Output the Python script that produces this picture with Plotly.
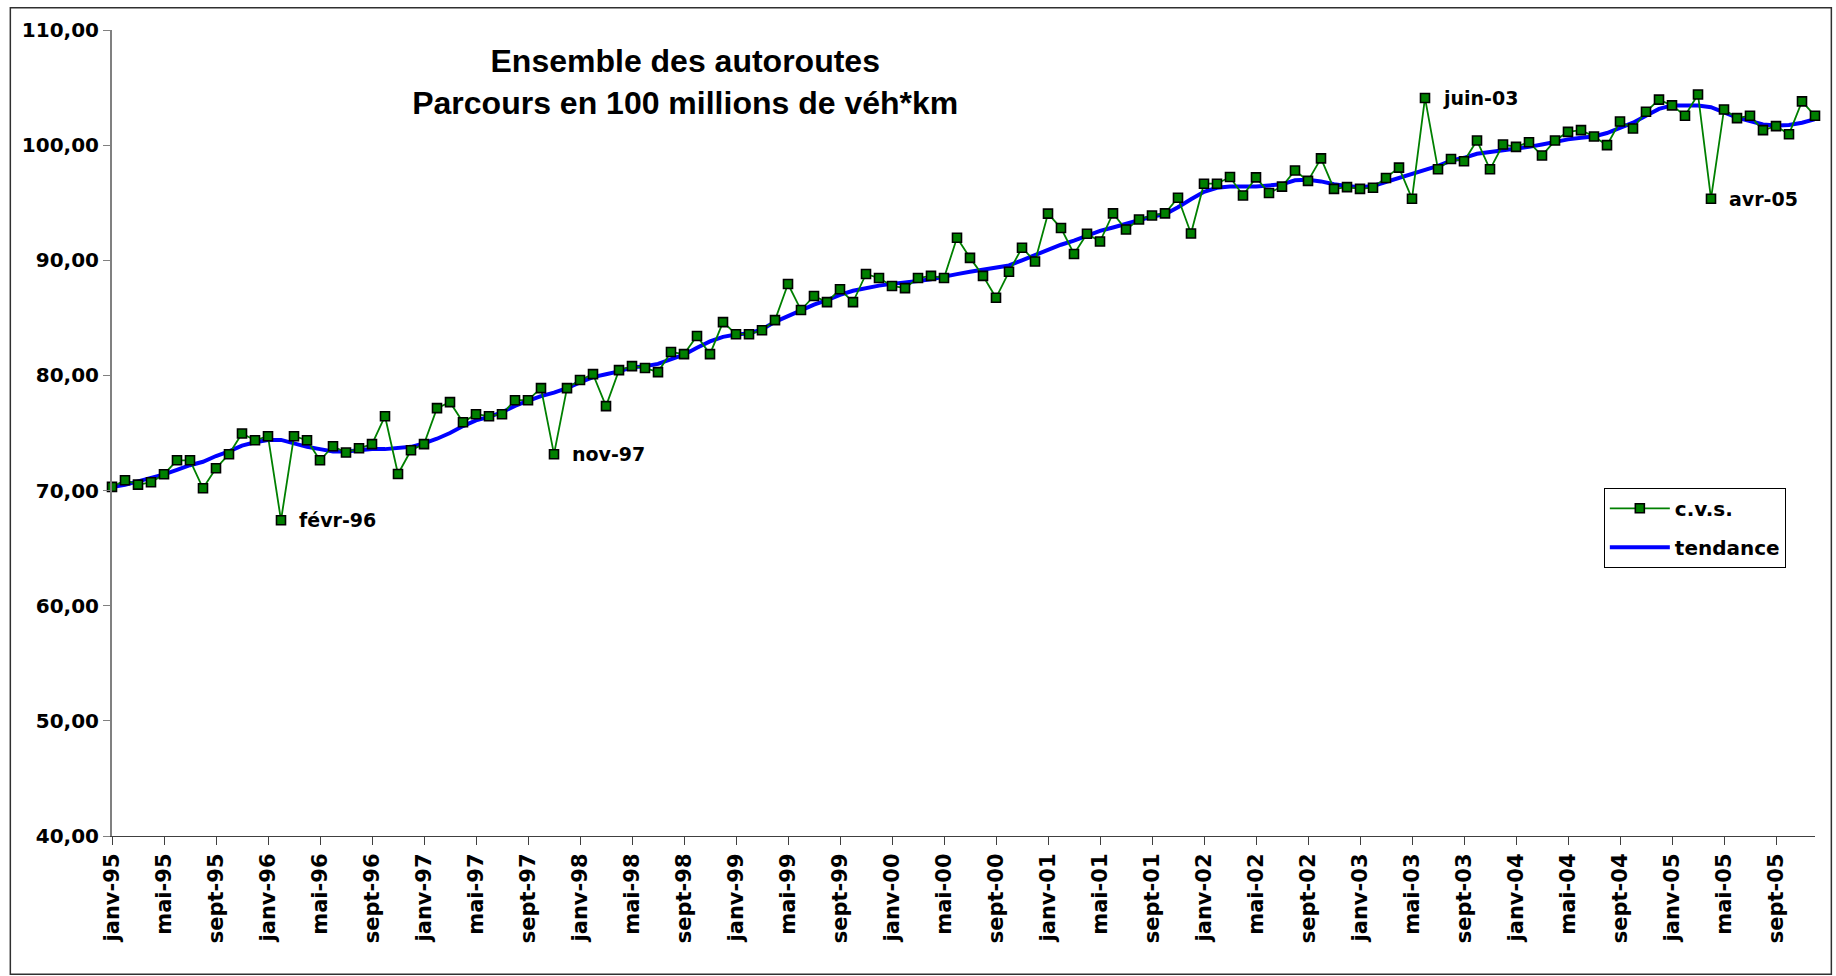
import plotly.graph_objects as go

# ---------------- data ----------------
month_names = ["janv", "févr", "mars", "avr", "mai", "juin",
               "juil", "août", "sept", "oct", "nov", "déc"]
years = [95, 96, 97, 98, 99, 0, 1, 2, 3, 4, 5]
months = [f"{m}-{y:02d}" for y in years for m in month_names]

cvs = [
    70.32, 70.90, 70.52, 70.72, 71.42, 72.63, 72.63, 70.20, 71.94, 73.16, 74.96, 74.37,   # 1995
    74.72, 67.42, 74.72, 74.37, 72.63, 73.85, 73.30, 73.68, 74.03, 76.46, 71.44, 73.50,   # 1996
    74.03, 77.16, 77.68, 75.94, 76.63, 76.46, 76.63, 77.85, 77.85, 78.90, 73.16, 78.90,   # 1997
    79.60, 80.11, 77.33, 80.46, 80.81, 80.65, 80.29, 82.03, 81.85, 83.42, 81.85, 84.63,   # 1998
    83.58, 83.58, 83.92, 84.80, 87.94, 85.68, 86.90, 86.37, 87.48, 86.37, 88.81, 88.46,   # 1999
    87.77, 87.58, 88.46, 88.65, 88.46, 91.96, 90.21, 88.65, 86.74, 89.00, 91.09, 89.90,   # 2000
    94.05, 92.80, 90.55, 92.30, 91.63, 94.07, 92.67, 93.54, 93.89, 94.07, 95.43, 92.33,   # 2001
    96.65, 96.65, 97.23, 95.63, 97.20, 95.84, 96.40, 97.80, 96.90, 98.85, 96.20, 96.35,   # 2002
    96.20, 96.30, 97.15, 98.05, 95.35, 104.10, 97.90, 98.80, 98.60, 100.40, 97.90, 100.05,  # 2003
    99.85, 100.25, 99.10, 100.40, 101.15, 101.30, 100.75, 100.00, 102.05, 101.45, 102.90, 103.95,  # 2004
    103.45, 102.55, 104.40, 95.35, 103.10, 102.35, 102.55, 101.30, 101.65, 100.95, 103.80, 102.55,  # 2005
]

tendance = [
    70.30, 70.50, 70.80, 71.10, 71.40, 71.80, 72.20, 72.50, 73.00, 73.40, 73.90, 74.20,
    74.40, 74.40, 74.10, 73.80, 73.60, 73.40, 73.40, 73.50, 73.60, 73.60, 73.70, 73.80,
    74.10, 74.50, 75.00, 75.60, 76.10, 76.40, 76.80, 77.35, 77.80, 78.20, 78.50, 78.90,
    79.40, 79.85, 80.10, 80.35, 80.70, 80.80, 81.00, 81.40, 81.80, 82.40, 82.95, 83.35,
    83.55, 83.65, 84.00, 84.65, 85.15, 85.60, 86.15, 86.55, 87.00, 87.35, 87.60, 87.80,
    87.95, 88.05, 88.20, 88.35, 88.60, 88.80, 89.00, 89.20, 89.35, 89.55, 90.00, 90.45,
    90.90, 91.35, 91.70, 92.15, 92.55, 92.85, 93.15, 93.50, 93.80, 94.00, 94.60, 95.30,
    95.95, 96.30, 96.40, 96.40, 96.40, 96.50, 96.60, 96.95, 97.00, 96.85, 96.60, 96.45,
    96.35, 96.45, 96.80, 97.15, 97.50, 97.90, 98.20, 98.65, 98.90, 99.25, 99.40, 99.55,
    99.65, 99.85, 100.05, 100.30, 100.50, 100.65, 100.75, 101.05, 101.50, 101.95, 102.55, 103.15,
    103.45, 103.45, 103.45, 103.30, 102.85, 102.40, 102.10, 101.80, 101.70, 101.75, 101.95, 102.25,
]

outliers = ["févr-96", "nov-97", "juin-03", "avr-05"]

tick_labels = months[::4]

# ---------------- figure ----------------
LABEL_FONT = "DejaVu Sans"
TITLE_FONT = "Liberation Sans, Arial, sans-serif"

fig = go.Figure()

fig.add_trace(go.Scatter(
    x=months, y=tendance, name="tendance", mode="lines",
    line=dict(color="#0000FF", width=4),
    legendrank=2, legendgroup="t", cliponaxis=False,
))

fig.add_trace(go.Scatter(
    x=months, y=cvs, name="c.v.s.", mode="lines+markers",
    line=dict(color="#008000", width=1.8),
    marker=dict(symbol="square", size=9, color="#008000",
                line=dict(color="#000000", width=1.6)),
    legendrank=1, legendgroup="c", cliponaxis=False,
))

for lab in outliers:
    i = months.index(lab)
    fig.add_annotation(
        x=lab, y=cvs[i], text=lab, showarrow=False,
        xanchor="left", yanchor="middle", xshift=16,
        font=dict(family=LABEL_FONT, size=19, color="#000000", weight="bold"),
    )

# outer chart frame
fig.add_shape(
    type="rect", xref="paper", yref="paper",
    x0=-0.0597, x1=1.0096, y0=-0.1715, y1=1.0275,
    line=dict(color="#303030", width=1.5), layer="below",
)

fig.update_layout(
    width=1836, height=976, autosize=False,
    margin=dict(l=112, r=21, t=30, b=140),
    paper_bgcolor="white", plot_bgcolor="white",
    separators=", ",
    showlegend=True,
    title=dict(
        text="Ensemble des autoroutes<br>Parcours en 100 millions de véh*km",
        font=dict(family=TITLE_FONT, size=32, color="#000000", weight="bold"),
        x=0.3366, xref="paper", xanchor="center",
        y=1 - 72 / 976, yref="container", yanchor="middle",
    ),
    legend=dict(
        x=0.876, y=0.432, xanchor="left", yanchor="top",
        bgcolor="white", bordercolor="#000000", borderwidth=1,
        traceorder="grouped", tracegroupgap=10, itemwidth=60,
        font=dict(family=LABEL_FONT, size=20, color="#000000", weight="bold"),
    ),
    xaxis=dict(
        type="category", range=[0, len(months) - 1],
        tickmode="array", tickvals=tick_labels, ticktext=tick_labels,
        tickangle=-90, ticks="outside", ticklen=8, tickcolor="#404040",
        showline=True, linecolor="#404040", linewidth=1.2,
        showgrid=False, zeroline=False,
        tickfont=dict(family=LABEL_FONT, size=21, color="#000000", weight="bold"),
    ),
    yaxis=dict(
        range=[40, 110], tick0=40, dtick=10, tickformat=".2f",
        ticks="outside", ticklen=7, tickcolor="#808080",
        showline=True, linecolor="#808080", linewidth=2,
        showgrid=False, zeroline=False,
        tickfont=dict(family=LABEL_FONT, size=20, color="#000000", weight="bold"),
    ),
)

fig.write_html("out.html", config={"displayModeBar": False},
               post_script="document.body.style.margin='0px';document.body.style.overflow='hidden';")
